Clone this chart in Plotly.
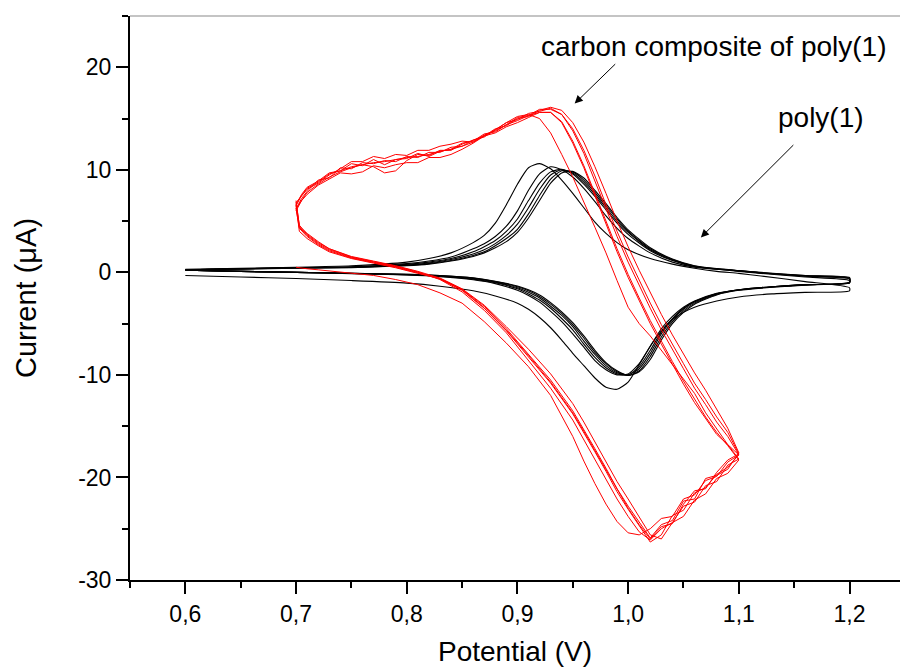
import plotly.graph_objects as go

# ---- Potential grids (V) for each half of a scan ----
poly1_fwd_potential = [0.60, 0.65, 0.70, 0.75, 0.80, 0.83, 0.86, 0.88, 0.90, 0.91,
                       0.92, 0.93, 0.94, 0.95, 0.96, 0.97, 0.98, 0.99, 1.00, 1.01,
                       1.02, 1.03, 1.04, 1.05, 1.06, 1.08, 1.10, 1.13, 1.16, 1.20]
poly1_rev_potential = [1.20, 1.16, 1.12, 1.10, 1.08, 1.06, 1.04, 1.02, 1.00, 0.99,
                       0.98, 0.97, 0.96, 0.95, 0.94, 0.93, 0.92, 0.91, 0.90, 0.89,
                       0.88, 0.87, 0.86, 0.84, 0.82, 0.80, 0.75, 0.70, 0.65, 0.60]

# ---- poly(1): current (uA), one list per half-scan and cycle ----
poly1_c1_fwd = [-0.3, -0.45, -0.6, -0.8, -1.05, -1.35, -1.8, -2.3, -3.0, -3.6,
                -4.4, -5.4, -6.6, -7.9, -9.1, -10.3, -11.2, -11.4, -10.7, -9.0,
                -7.2, -5.7, -4.6, -3.9, -3.4, -2.8, -2.4, -2.1, -1.95, -1.8]
poly1_c1_rev = [-1.5, -0.9, -0.35, -0.1, 0.1, 0.4, 0.8, 1.35, 2.2, 2.9,
                3.8, 4.9, 6.3, 7.7, 9.0, 10.1, 10.6, 10.2, 8.6, 6.6,
                4.8, 3.6, 2.9, 1.9, 1.35, 1.0, 0.65, 0.5, 0.4, 0.3]

poly1_c2_fwd = [0.2, 0.1, 0.0, -0.12, -0.26, -0.42, -0.72, -1.1, -1.75, -2.25,
                -2.9, -3.8, -4.8, -6.0, -7.3, -8.6, -9.5, -10.0, -9.9, -8.9,
                -7.2, -5.5, -4.3, -3.4, -2.8, -2.05, -1.7, -1.4, -1.2, -1.05]
poly1_c2_rev = [-0.8, -0.45, -0.1, 0.1, 0.3, 0.5, 1.0, 1.9, 3.3, 4.3,
                5.5, 6.9, 8.2, 9.3, 10.0, 10.3, 9.6, 8.0, 6.0, 4.5,
                3.5, 2.8, 2.3, 1.5, 1.1, 0.85, 0.55, 0.45, 0.35, 0.25]

poly1_c3_fwd = [0.2, 0.1, 0.0, -0.11, -0.24, -0.38, -0.66, -1.02, -1.6, -2.1,
                -2.7, -3.5, -4.5, -5.6, -7.0, -8.3, -9.3, -9.9, -10.0, -9.2,
                -7.6, -5.8, -4.5, -3.5, -2.85, -2.1, -1.7, -1.4, -1.2, -1.02]
poly1_c3_rev = [-0.65, -0.38, -0.06, 0.14, 0.32, 0.55, 1.15, 2.1, 3.7, 4.8,
                6.1, 7.4, 8.6, 9.6, 10.05, 9.8, 8.7, 7.0, 5.2, 4.0,
                3.1, 2.5, 2.0, 1.35, 1.0, 0.78, 0.52, 0.45, 0.35, 0.25]

poly1_c4_fwd = [0.2, 0.1, 0.0, -0.1, -0.22, -0.35, -0.6, -0.95, -1.5, -1.95,
                -2.5, -3.3, -4.2, -5.3, -6.7, -8.0, -9.1, -9.8, -10.0, -9.4,
                -7.9, -6.0, -4.6, -3.6, -2.9, -2.1, -1.7, -1.4, -1.2, -1.0]
poly1_c4_rev = [-0.6, -0.35, -0.05, 0.15, 0.33, 0.58, 1.2, 2.2, 3.9, 5.0,
                6.3, 7.6, 8.8, 9.7, 10.0, 9.5, 8.1, 6.3, 4.7, 3.6,
                2.8, 2.2, 1.8, 1.25, 0.92, 0.72, 0.5, 0.45, 0.35, 0.25]

poly1_c5_fwd = [0.2, 0.1, 0.0, -0.09, -0.2, -0.32, -0.56, -0.9, -1.4, -1.8,
                -2.35, -3.1, -4.0, -5.1, -6.4, -7.8, -8.9, -9.7, -10.05, -9.6,
                -8.2, -6.3, -4.8, -3.75, -3.0, -2.15, -1.72, -1.42, -1.22, -0.98]
poly1_c5_rev = [-0.55, -0.32, -0.03, 0.17, 0.35, 0.62, 1.25, 2.3, 4.0, 5.2,
                6.5, 7.8, 9.0, 9.8, 9.9, 9.1, 7.5, 5.7, 4.2, 3.3,
                2.6, 2.0, 1.65, 1.15, 0.85, 0.68, 0.48, 0.42, 0.33, 0.25]

poly1_c6_fwd = [0.2, 0.1, 0.0, -0.08, -0.19, -0.3, -0.53, -0.86, -1.33, -1.7,
                -2.2, -2.95, -3.85, -4.9, -6.2, -7.6, -8.8, -9.6, -10.05, -9.7,
                -8.5, -6.6, -5.0, -3.9, -3.1, -2.2, -1.75, -1.45, -1.25, -0.95]
poly1_c6_rev = [-0.5, -0.3, 0.0, 0.18, 0.37, 0.65, 1.3, 2.4, 4.15, 5.35,
                6.7, 8.0, 9.2, 9.85, 9.7, 8.7, 7.0, 5.3, 3.9, 3.0,
                2.4, 1.9, 1.55, 1.1, 0.8, 0.65, 0.46, 0.4, 0.32, 0.25]

# ---- carbon composite of poly(1) ----
comp_fwd_potential = [0.700, 0.703, 0.71, 0.72, 0.73, 0.75, 0.77, 0.79, 0.81, 0.83,
                      0.85, 0.87, 0.89, 0.91, 0.93, 0.95, 0.96, 0.97, 0.98, 0.99,
                      1.00, 1.01, 1.02, 1.03, 1.04, 1.05, 1.06, 1.07, 1.08, 1.09, 1.10]
comp_rev_potential = [1.10, 1.09, 1.08, 1.07, 1.06, 1.05, 1.04, 1.03, 1.02, 1.01,
                      1.00, 0.99, 0.98, 0.97, 0.96, 0.95, 0.94, 0.93, 0.92, 0.91,
                      0.90, 0.89, 0.88, 0.87, 0.86, 0.85, 0.84, 0.83, 0.82, 0.81,
                      0.80, 0.79, 0.78, 0.77, 0.76, 0.75, 0.74, 0.73, 0.72, 0.71,
                      0.705, 0.700]

comp_c1_fwd = [0.5, 0.45, 0.35, 0.25, 0.15, -0.05, -0.3, -0.7, -1.2, -2.0,
               -3.0, -4.8, -6.9, -9.2, -12.0, -16.0, -18.4, -20.6, -22.6, -24.3,
               -25.4, -25.6, -25.0, -24.0, -23.8, -22.1, -21.7, -20.3, -19.9, -18.5, -17.8]
comp_c1_rev = [-17.8, -16.8, -15.3, -13.7, -11.8, -10.4, -9.0, -7.6, -6.2, -5.0,
               -3.4, -0.8, 1.9, 4.4, 6.9, 9.3, 11.5, 13.6, 15.0, 15.4,
               15.2, 14.6, 13.9, 13.3, 12.7, 12.3, 12.0, 11.8, 11.5, 11.3,
               11.2, 11.0, 10.8, 10.7, 10.5, 10.2, 9.8, 9.3, 8.6, 7.8,
               7.0, 6.2]

comp_c2_fwd = [6.8, 4.6, 3.7, 2.9, 2.3, 1.5, 1.05, 0.6, 0.05, -0.7,
               -1.9, -3.7, -5.9, -8.6, -11.3, -14.4, -16.3, -18.2, -20.1, -22.1,
               -23.8, -25.3, -26.1, -25.0, -24.4, -22.8, -22.4, -20.8, -20.4, -18.8, -18.2]
comp_c2_rev = [-18.2, -16.8, -15.8, -14.3, -12.7, -10.9, -9.0, -7.0, -5.0, -2.8,
               -0.5, 2.0, 4.7, 7.5, 10.2, 12.6, 14.6, 15.6, 15.6, 15.3,
               14.8, 14.4, 13.8, 13.4, 12.7, 12.8, 12.5, 12.3, 11.9, 11.9,
               11.4, 11.5, 11.1, 11.3, 10.8, 10.8, 10.1, 9.5, 8.7, 8.1,
               7.4, 6.8]

comp_c3_fwd = [6.2, 4.3, 3.5, 2.7, 2.1, 1.4, 0.95, 0.5, -0.05, -0.65,
               -1.75, -3.5, -5.7, -8.2, -10.8, -13.8, -15.6, -17.5, -19.4, -21.4,
               -23.1, -24.7, -26.3, -25.6, -23.7, -23.2, -21.5, -21.0, -19.7, -19.0, -17.8]
comp_c3_rev = [-17.8, -16.0, -14.6, -12.9, -11.3, -9.4, -7.5, -5.6, -3.5, -1.3,
               1.0, 3.5, 6.2, 9.0, 11.6, 13.8, 15.4, 16.0, 15.7, 15.5,
               14.9, 14.6, 13.9, 13.2, 12.9, 12.3, 12.2, 11.7, 11.7, 11.2,
               11.3, 10.8, 10.9, 10.6, 10.7, 10.1, 10.2, 9.2, 9.0, 7.9,
               7.2, 6.2]

comp_c4_fwd = [6.5, 4.0, 3.3, 2.6, 2.0, 1.35, 0.9, 0.45, -0.1, -0.6,
               -1.65, -3.3, -5.5, -8.0, -10.5, -13.5, -15.3, -17.2, -19.1, -21.1,
               -22.8, -24.4, -25.9, -24.6, -24.2, -22.3, -22.1, -20.1, -19.8, -19.2, -17.6]
comp_c4_rev = [-17.6, -15.2, -13.3, -11.5, -9.8, -8.0, -6.1, -4.1, -2.0, 0.2,
               2.5, 5.0, 7.7, 10.3, 12.7, 14.6, 15.8, 16.1, 15.8, 15.2,
               15.0, 14.3, 14.0, 13.3, 12.9, 12.5, 11.9, 11.9, 11.4, 11.5,
               10.9, 9.9, 9.7, 10.3, 10.5, 10.3, 9.9, 9.6, 8.8, 8.2,
               7.5, 6.5]

comp_c5_fwd = [7.0, 4.5, 3.8, 3.0, 2.3, 1.55, 1.1, 0.65, 0.1, -0.55,
               -1.6, -3.2, -5.3, -7.5, -9.9, -12.8, -14.6, -16.5, -18.4, -20.4,
               -22.1, -23.8, -25.6, -26.0, -24.4, -23.8, -22.2, -21.6, -20.1, -19.6, -18.3]
comp_c5_rev = [-18.3, -16.9, -15.6, -14.1, -12.4, -10.6, -8.7, -6.7, -4.7, -2.5,
               -0.2, 2.3, 5.0, 7.8, 10.4, 12.8, 14.7, 15.6, 15.6, 15.1,
               14.6, 14.2, 13.6, 13.3, 12.6, 12.0, 11.5, 11.2, 11.2, 10.7,
               10.7, 10.5, 10.2, 10.4, 9.8, 9.6, 9.7, 9.1, 8.5, 7.6,
               7.0, 6.0]

comp_c6_fwd = [6.6, 4.4, 3.6, 2.8, 2.2, 1.45, 1.0, 0.55, 0.0, -0.62,
               -1.7, -3.45, -5.65, -8.1, -10.7, -13.7, -15.5, -17.4, -19.3, -21.2,
               -23.0, -24.6, -26.0, -24.8, -24.5, -22.6, -21.3, -21.1, -19.5, -18.3, -17.7]
comp_c6_rev = [-17.7, -15.6, -14.1, -12.4, -10.8, -8.9, -7.0, -5.1, -3.0, -0.8,
               1.5, 4.0, 6.6, 9.4, 11.9, 14.0, 15.4, 15.9, 15.9, 15.3,
               15.1, 14.4, 13.7, 13.5, 12.8, 12.6, 12.0, 11.8, 11.3, 11.6,
               11.1, 11.0, 10.5, 11.0, 10.4, 10.6, 9.9, 9.7, 8.9, 8.3,
               7.6, 6.6]

# ---- Axis ticks ----
x_tick_values = [0.6, 0.7, 0.8, 0.9, 1.0, 1.1, 1.2]
x_tick_labels = ["0,6", "0,7", "0,8", "0,9", "1,0", "1,1", "1,2"]
x_minor_values = [0.55, 0.65, 0.75, 0.85, 0.95, 1.05, 1.15]
y_tick_values = [-30, -20, -10, 0, 10, 20]
y_tick_labels = ["-30", "-20", "-10", "0", "10", "20"]
y_minor_values = [-25, -15, -5, 5, 15, 25]

FONT = "Arial, Liberation Sans, sans-serif"

poly1_cycles = [
    (poly1_c1_fwd, poly1_c1_rev), (poly1_c2_fwd, poly1_c2_rev),
    (poly1_c3_fwd, poly1_c3_rev), (poly1_c4_fwd, poly1_c4_rev),
    (poly1_c5_fwd, poly1_c5_rev), (poly1_c6_fwd, poly1_c6_rev),
]
comp_cycles = [
    (comp_c1_fwd, comp_c1_rev), (comp_c2_fwd, comp_c2_rev),
    (comp_c3_fwd, comp_c3_rev), (comp_c4_fwd, comp_c4_rev),
    (comp_c5_fwd, comp_c5_rev), (comp_c6_fwd, comp_c6_rev),
]

fig = go.Figure()

for fwd, rev in poly1_cycles:
    fig.add_trace(go.Scatter(
        x=poly1_fwd_potential + poly1_rev_potential,
        y=fwd + rev,
        mode="lines",
        line=dict(color="black", width=1.1, shape="spline", smoothing=0.6),
        showlegend=False, hoverinfo="skip",
    ))

for fwd, rev in comp_cycles:
    fig.add_trace(go.Scatter(
        x=comp_fwd_potential + comp_rev_potential,
        y=fwd + rev,
        mode="lines",
        line=dict(color="#ff0000", width=1),
        showlegend=False, hoverinfo="skip",
    ))

axis_common = dict(
    showline=True, linecolor="black", linewidth=2,
    ticks="outside", ticklen=12, tickwidth=2, tickcolor="black",
    showgrid=False, zeroline=False,
    tickfont=dict(family=FONT, size=23, color="black"),
    tickmode="array",
)

fig.update_xaxes(
    **axis_common,
    range=[0.55, 1.2456],
    tickvals=x_tick_values, ticktext=x_tick_labels,
    minor=dict(tickmode="array", tickvals=x_minor_values, ticks="outside",
               ticklen=6, tickwidth=2, tickcolor="black"),
    title=dict(text="Potential (V)", font=dict(family=FONT, size=28, color="black"),
               standoff=16),
)
fig.update_yaxes(
    **axis_common,
    range=[-30, 25],
    tickvals=y_tick_values, ticktext=y_tick_labels,
    minor=dict(tickmode="array", tickvals=y_minor_values, ticks="outside",
               ticklen=6, tickwidth=2, tickcolor="black"),
    title=dict(text="Current (\u03bcA)", font=dict(family=FONT, size=29, color="black"),
               standoff=33),
)

# Thin frame line along the top of the plot area
fig.add_shape(type="line", xref="paper", yref="paper", x0=0, x1=1, y0=1, y1=1,
              line=dict(color="#8a8a8a", width=1.2))

label_font = dict(family=FONT, size=28, color="black")
fig.add_annotation(x=1.0774, y=22.0, xref="x", yref="y", text="carbon composite of poly(1)",
                   showarrow=False, font=label_font)
fig.add_annotation(x=1.1741, y=15.1, xref="x", yref="y", text="poly(1)",
                   showarrow=False, font=label_font)
fig.add_annotation(x=0.9517, y=16.46, ax=0.9897, ay=20.45, xref="x", yref="y",
                   axref="x", ayref="y", text="", showarrow=True,
                   arrowhead=2, arrowsize=1.6, arrowwidth=1, arrowcolor="black")
fig.add_annotation(x=1.0657, y=3.41, ax=1.1506, ay=12.56, xref="x", yref="y",
                   axref="x", ayref="y", text="", showarrow=True,
                   arrowhead=2, arrowsize=1.6, arrowwidth=1, arrowcolor="black")

fig.update_layout(
    width=900, height=670,
    margin=dict(l=130, r=0, t=16, b=90),
    paper_bgcolor="white", plot_bgcolor="white",
    font=dict(family=FONT, color="black"),
)

fig.write_html("out.html")
